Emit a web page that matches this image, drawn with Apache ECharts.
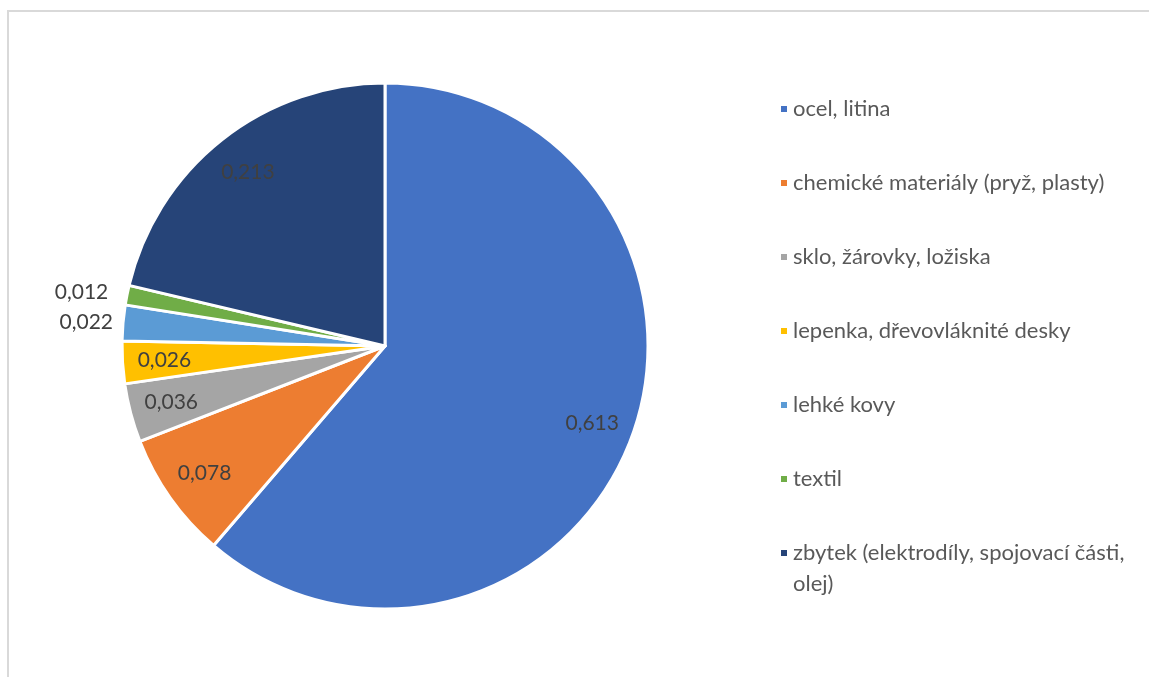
<!DOCTYPE html>
<html>
<head>
<meta charset="UTF-8">
<title>Pie</title>
<script type="text/javascript" src="https://cdn.jsdelivr.net/npm/echarts@6/dist/echarts.min.js"></script>
<style>
	body { margin: 0; background: #fff; overflow: hidden; }
	#frame { position: absolute; left: 7px; top: 10px; width: 1300px; height: 800px; border: 2px solid #d9d9d9; }
	#main { position: absolute; left: 0; top: 0; width: 1149px; height: 677px; }
</style>
</head>
<body>
<div id="frame"></div>
<div id="main"></div>

<script type="text/javascript">
	// data
	var categories = ['ocel, litina', 'chemické materiály (pryž, plasty)', 'sklo, žárovky, ložiska',
		'lepenka, dřevovláknité desky', 'lehké kovy', 'textil', 'zbytek (elektrodíly, spojovací části, olej)'];
	var values = [0.613, 0.078, 0.036, 0.026, 0.022, 0.012, 0.213];

	var palette = ['#4472C4', '#ED7D31', '#A5A5A5', '#FFC000', '#5B9BD5', '#70AD47', '#264478'];

	var myChart = echarts.init(document.getElementById('main'));

	var pieData = categories.map(function (name, i) {
		return { name: name, value: values[i], itemStyle: { color: palette[i] } };
	});

	// second, invisible ring only carries the labels (Excel puts them further out)
	var labelData = categories.map(function (name, i) {
		var outside = values[i] < 0.025;
		return {
			name: name,
			value: values[i],
			label: { position: outside ? 'outside' : 'inside' },
			labelLine: { show: false, length: outside ? (values[i] < 0.015 ? 14 : 5) : 0, length2: 0 }
		};
	});

	var legendFont = { fontFamily: 'Lato', fontSize: 22, color: '#595959' };

	var option = {
		animation: false,
		color: palette,
		legend: {
			orient: 'vertical',
			left: 779,
			top: 94,
			padding: 0,
			data: categories,
			icon: 'rect',
			itemWidth: 8,
			itemHeight: 8,
			itemGap: 44,
			selectedMode: false,
			formatter: function (name) {
				// Excel wraps the last entry before "olej)", marker stays on line one
				var k = name.indexOf(', olej)');
				if (k < 0) return name;
				return '{a|' + name.slice(0, k + 1) + '}\n{b|' + name.slice(k + 2) + '}';
			},
			textStyle: {
				fontFamily: 'Lato',
				fontSize: 22,
				color: '#595959',
				lineHeight: 30,
				rich: {
					a: echarts.util.extend({ lineHeight: 30 }, legendFont),
					b: echarts.util.extend({ lineHeight: 0, verticalAlign: 'top', padding: [5, 0, 0, 0] }, legendFont)
				}
			}
		},
		series: [
			{
				type: 'pie',
				center: [385, 346],
				radius: 263,
				startAngle: 90,
				clockwise: true,
				silent: true,
				label: { show: false },
				labelLine: { show: false },
				itemStyle: { borderColor: '#fff', borderWidth: 3 },
				data: pieData
			},
			{
				type: 'pie',
				center: [385, 346],
				radius: [173, 263],
				startAngle: 90,
				clockwise: true,
				silent: true,
				avoidLabelOverlap: false,
				itemStyle: { color: 'rgba(0,0,0,0)', borderWidth: 0 },
				label: {
					show: true,
					fontFamily: 'Lato',
					fontSize: 21,
					color: '#404040',
					formatter: function (p) {
						return String(p.value).replace('.', ',');
					}
				},
				data: labelData
			}
		]
	};

	myChart.setOption(option);
</script>
</body>
</html>
